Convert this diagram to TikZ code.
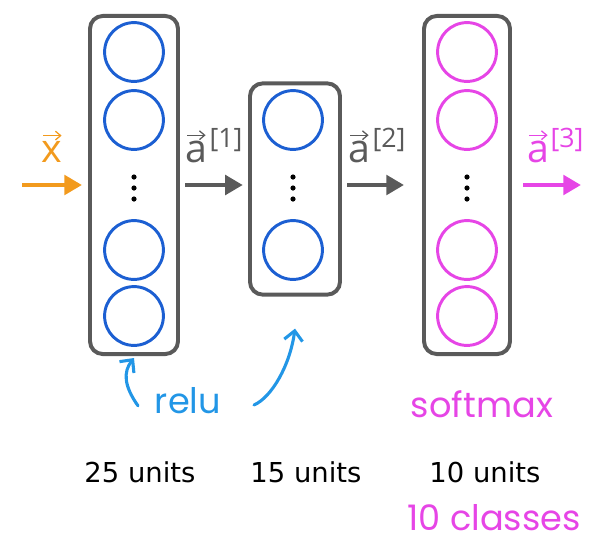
\documentclass[tikz,border=0pt]{standalone}
\usepackage{fontspec}
\setmainfont{Open Sans}
\newfontfamily\unitfont{DejaVu Sans}
\newfontfamily\handfont{Poppins}
\usetikzlibrary{arrows.meta,positioning}
\definecolor{nnGray}{HTML}{5A5A5A}
\definecolor{nnBlue}{HTML}{1C5FD2}
\definecolor{nnPink}{HTML}{E645E6}
\definecolor{nnOrange}{HTML}{F29A1D}
\definecolor{nnSky}{HTML}{2296E6}
\tikzset{
  layer/.style={draw=nnGray, line width=2.8pt, rounded corners=0.32cm,
    minimum width=2.2cm, inner sep=0pt},
  unit/.style={circle, draw=#1, line width=2.1pt, minimum size=1.47cm, inner sep=0pt},
  flow/.style={line width=3.5pt, -{Triangle[length=4.4mm,width=4.8mm]}},
  vlabel/.style={font=\fontsize{28}{30}\selectfont, inner sep=0pt},
  suplabel/.style={font=\fontsize{19}{22}\selectfont, inner sep=0pt},
  vecbar/.style={line width=0.9pt, -{Straight Barb[length=1.3mm,width=2.2mm]}},
  hand/.style={font=\handfont\fontsize{25}{30}\selectfont},
  units/.style={font=\unitfont\fontsize{19.5}{24}\selectfont, text=black},
  pointer/.style={nnSky, line width=2.2pt, line cap=round,
    -{Straight Barb[length=2.4mm,width=4.6mm]}},
}
\begin{document}
\begin{tikzpicture}[x=0.025cm, y=-0.025cm]
  \useasboundingbox (0,0) rectangle (598,542);

  % Layers
  \node[layer, minimum height=8.45cm] (box1) at (134,185) {};
  \node[layer, minimum width=2.25cm, minimum height=5.28cm] (box2) at (295,189) {};
  \node[layer, minimum width=2.15cm, minimum height=8.45cm] (box3) at (467,185) {};

  % Units of each layer
  \foreach \y/\n in {52/a, 120/b, 250/c, 316/d} {
    \node[unit=nnBlue] (h1\n) at (134,\y) {};
    \node[unit=nnPink] (out\n) at (467,\y) {};
  }
  \node[unit=nnBlue] (h2a) at (293,120) {};
  \node[unit=nnBlue] (h2b) at (293,250) {};
  \foreach \x in {134,293,467} {
    \foreach \y in {177,188,199} {
      \fill (\x,\y) circle (2.6);
    }
  }

  % Data flow
  \coordinate (xin) at (22,185);
  \coordinate (aout) at (581,185);
  \draw[flow, nnOrange] (xin) -- ([xshift=-0.15cm]box1.west);
  \draw[flow, nnGray] ([xshift=0.13cm]box1.east) -- ([xshift=-0.13cm]box2.west |- xin);
  \draw[flow, nnGray] ([xshift=0.13cm]box2.east |- xin) -- ([xshift=-0.45cm]box3.west);
  \draw[flow, nnPink] ([xshift=0.28cm]box3.east) -- (aout);

  % Vector labels
  \node[vlabel, text=nnOrange] (xlab) at (52,152) {x};
  \node[vlabel, text=nnGray] (alab1) at (196,152) {a};
  \node[suplabel, text=nnGray] (sup1) at (226,140) {[1]};
  \node[vlabel, text=nnGray] (alab2) at (359,152) {a};
  \node[suplabel, text=nnGray] (sup2) at (389,140) {[2]};
  \node[vlabel, text=nnPink] (alab3) at (538,152) {a};
  \node[suplabel, text=nnPink] (sup3) at (567,140) {[3]};
  \draw[vecbar, nnOrange] ([xshift=-0.22cm,yshift=0.14cm]xlab.north) -- ([xshift=0.24cm,yshift=0.14cm]xlab.north);
  \foreach \lab/\col in {alab1/nnGray, alab2/nnGray, alab3/nnPink} {
    \draw[vecbar, \col] ([xshift=-0.22cm,yshift=0.14cm]\lab.north) -- ([xshift=0.24cm,yshift=0.14cm]\lab.north);
  }

  % Activations
  \node[hand, text=nnSky] (relu) at (188,401) {relu};
  \draw[pointer] ([xshift=-0.3cm,yshift=-0.12cm]relu.west)
    .. controls (124,386) and (123,372) .. ([yshift=-0.05cm]box1.south);
  \draw[pointer] ([xshift=0.7cm,yshift=-0.1cm]relu.east)
    .. controls (272,397) and (290,365) .. ([yshift=-0.8cm]box2.south);
  \node[hand, text=nnPink] (softmax) at (482,404) {softmax};

  % Sizes
  \node[units] (n1) at (140,472) {25 units};
  \node[units] (n2) at (306,472) {15 units};
  \node[units] (n3) at (485,472) {10 units};
  \node[hand, text=nnPink] (classes) at (494,518) {10 classes};
\end{tikzpicture}
\end{document}
